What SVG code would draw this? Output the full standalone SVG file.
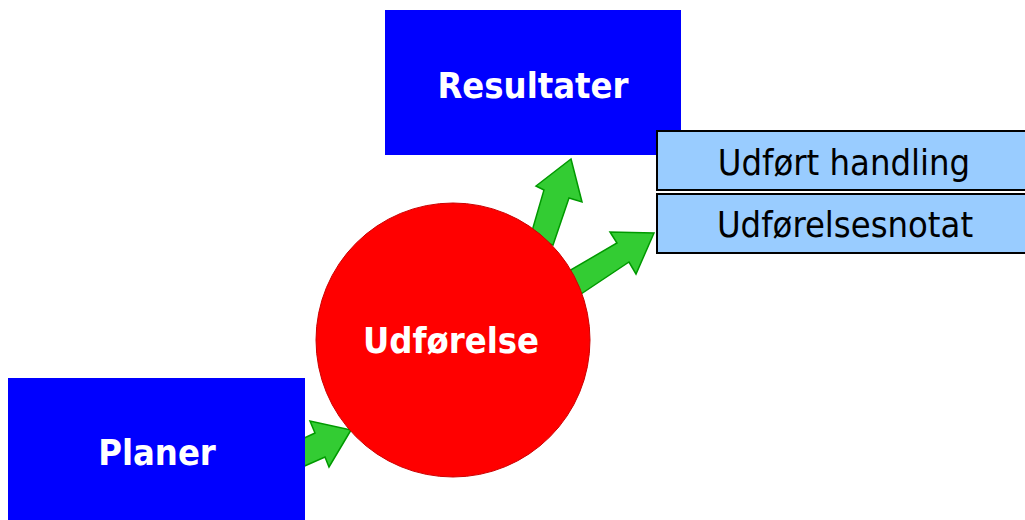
<svg xmlns="http://www.w3.org/2000/svg" width="1025" height="520" viewBox="0 0 1025 520">
<style>
.arrow{fill:#33CC33;stroke:#009900;stroke-width:1.5;stroke-linejoin:miter}
.blue{fill:#0000FF}
.lt{fill:#99CCFF;stroke:#000;stroke-width:2}
.wt{font-family:"DejaVu Sans Condensed","DejaVu Sans",sans-serif;font-stretch:condensed;font-size:36px;font-weight:bold;fill:#FFF;text-anchor:middle}
.bt{font-family:"DejaVu Sans Condensed","DejaVu Sans",sans-serif;font-stretch:condensed;font-size:36px;fill:#000;text-anchor:middle}
</style>
<rect width="1025" height="520" fill="#FFF"/>
<g id="connectors">
<polygon class="arrow" points="571,159 582,202 569,198 553,245 530,238 544,190 536,186"/>
<polygon class="arrow" points="654,233 636,274 629,262 575,298 562,275 617,243 610,232"/>
<polygon class="arrow" points="351,430 329,467 325,457 300,468 300,440 315,433 310,421"/>
</g>
<g id="resultater">
<rect class="blue" x="385" y="10" width="296" height="145"/>
<text class="wt" x="533" y="98">Resultater</text>
</g>
<g id="planer">
<rect class="blue" x="8" y="378" width="297" height="145"/>
<text class="wt" x="157" y="465">Planer</text>
</g>
<g id="udforelse">
<circle cx="453" cy="340" r="137" fill="#FF0000" stroke="#CC0000" stroke-width="1"/>
<text class="wt" x="451" y="353">Udførelse</text>
</g>
<g id="udfort-handling">
<rect class="lt" x="657" y="131" width="372" height="59"/>
<text class="bt" x="844" y="175">Udført handling</text>
</g>
<g id="udforelsesnotat">
<rect class="lt" x="657" y="194" width="372" height="59"/>
<text class="bt" x="845" y="237">Udførelsesnotat</text>
</g>
</svg>
